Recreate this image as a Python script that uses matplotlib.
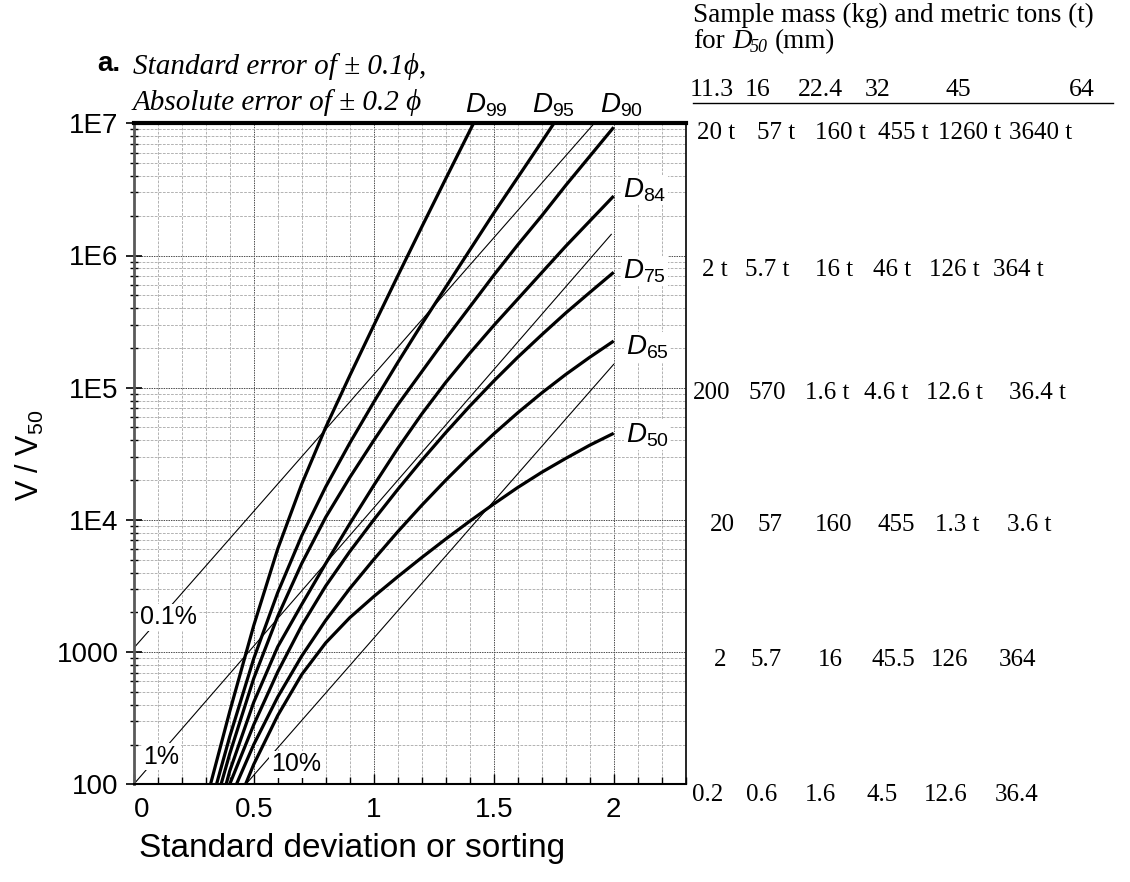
import numpy as np
import matplotlib
matplotlib.use("Agg")
import matplotlib.pyplot as plt
import matplotlib.transforms as mtransforms
from matplotlib.ticker import FixedLocator, FixedFormatter, MultipleLocator, NullFormatter, LogLocator

plt.rcParams['font.family'] = ['Liberation Sans', 'DejaVu Sans']
plt.rcParams['mathtext.fontset'] = 'custom'
plt.rcParams['mathtext.rm'] = 'Liberation Sans'
plt.rcParams['mathtext.it'] = 'Liberation Sans:italic'

# ---------------- data (x = sorting, values = log10(V/V50)) ----------------
d99_x = [0.32, 0.4, 0.5, 0.6, 0.7, 0.8, 0.9, 1.0, 1.1, 1.2, 1.3, 1.416]
d99_log = [2.0, 2.55, 3.2, 3.78, 4.27, 4.7, 5.09, 5.47, 5.845, 6.215, 6.58, 7.0]

d95_x = [0.345, 0.4, 0.5, 0.6, 0.7, 0.8, 0.9, 1.0, 1.1, 1.2, 1.3, 1.4, 1.5, 1.6, 1.7, 1.751]
d95_log = [2.0, 2.36, 2.95, 3.45, 3.88, 4.25, 4.58, 4.89, 5.19, 5.48, 5.76, 6.04, 6.32, 6.59, 6.86, 7.0]

d90_x = [0.364, 0.4, 0.5, 0.6, 0.7, 0.8, 0.9, 1.0, 1.1, 1.2, 1.3, 1.4, 1.5, 1.6, 1.7, 1.8, 1.9, 2.0]
d90_log = [2.0, 2.23, 2.8, 3.27, 3.67, 4.02, 4.32, 4.6, 4.87, 5.12, 5.37, 5.61, 5.85, 6.08, 6.3, 6.53, 6.75, 6.97]

d84_x = [0.385, 0.4, 0.5, 0.6, 0.7, 0.8, 0.9, 1.0, 1.1, 1.2, 1.3, 1.4, 1.5, 1.6, 1.7, 1.8, 1.9, 2.0]
d84_log = [2.0, 2.1, 2.62, 3.04, 3.36, 3.67, 3.97, 4.26, 4.54, 4.80, 5.04, 5.26, 5.47, 5.67, 5.87, 6.07, 6.26, 6.45]

d75_x = [0.4, 0.5, 0.6, 0.7, 0.8, 0.9, 1.0, 1.1, 1.2, 1.3, 1.4, 1.5, 1.6, 1.7, 1.8, 1.9, 2.0]
d75_log = [2.0, 2.45, 2.85, 3.2, 3.5, 3.76, 4.0, 4.23, 4.45, 4.66, 4.86, 5.05, 5.23, 5.4, 5.565, 5.72, 5.873]

d65_x = [0.428, 0.5, 0.6, 0.7, 0.8, 0.9, 1.0, 1.1, 1.2, 1.3, 1.4, 1.5, 1.6, 1.7, 1.8, 1.9, 2.0]
d65_log = [2.0, 2.3, 2.66, 2.97, 3.24, 3.48, 3.70, 3.91, 4.11, 4.30, 4.48, 4.65, 4.81, 4.96, 5.1, 5.23, 5.353]

d50_x = [0.466, 0.5, 0.6, 0.7, 0.8, 0.9, 1.0, 1.1, 1.2, 1.3, 1.4, 1.5, 1.6, 1.7, 1.8, 1.9, 2.0]
d50_log = [2.0, 2.15, 2.52, 2.83, 3.07, 3.26, 3.42, 3.57, 3.715, 3.855, 3.99, 4.12, 4.245, 4.36, 4.465, 4.565, 4.655]

curve_names = ['99', '95', '90', '84', '75', '65', '50']

# thin percent-error lines (end points)
pct_labels = ['0.1%', '1%', '10%']
pct_x = [[0.0, 1.919], [0.0, 1.99], [0.467, 2.0]]
pct_log = [[3.03, 7.0], [2.0, 6.16], [2.0, 5.177]]

# axis ticks
ytick_vals = [1e2, 1e3, 1e4, 1e5, 1e6, 1e7]
ytick_labels = ['100', '1000', '1E4', '1E5', '1E6', '1E7']
xtick_vals = [0, 0.5, 1.0, 1.5, 2.0]
xtick_labels = ['0', '0.5', '1', '1.5', '2']

# side table
d50_sizes = ['11.3', '16', '22.4', '32', '45', '64']
row_1e7 = ['20 t', '57 t', '160 t', '455 t', '1260 t', '3640 t']
row_1e6 = ['2 t', '5.7 t', '16 t', '46 t', '126 t', '364 t']
row_1e5 = ['200', '570', '1.6 t', '4.6 t', '12.6 t', '36.4 t']
row_1e4 = ['20', '57', '160', '455', '1.3 t', '3.6 t']
row_1e3 = ['2', '5.7', '16', '45.5', '126', '364']
row_1e2 = ['0.2', '0.6', '1.6', '4.5', '12.6', '36.4']

# ---------------- figure ----------------
W, H = 1130, 882
fig = plt.figure(figsize=(W / 100, H / 100), dpi=100)
ax = fig.add_axes([133.7 / W, 1 - 784.3 / H, 552 / W, 661 / H])
ax.set_yscale('log')
ax.set_xlim(0, 2.3)
ax.set_ylim(1e2, 1e7)
ax.set_axisbelow(True)

curves_x = [d99_x, d95_x, d90_x, d84_x, d75_x, d65_x, d50_x]
curves_log = [d99_log, d95_log, d90_log, d84_log, d75_log, d65_log, d50_log]
for cx, cl in zip(curves_x, curves_log):
    ax.plot(cx, 10 ** np.array(cl), color='black', lw=2.3, solid_capstyle='butt',
            solid_joinstyle='round', zorder=3)

for px, pl in zip(pct_x, pct_log):
    ax.plot(px, 10 ** np.array(pl), color='black', lw=0.8, zorder=2)

# ticks & grid
ax.xaxis.set_major_locator(FixedLocator(xtick_vals))
ax.xaxis.set_major_formatter(FixedFormatter(xtick_labels))
ax.xaxis.set_minor_locator(MultipleLocator(0.1))
ax.yaxis.set_major_locator(FixedLocator(ytick_vals))
ax.yaxis.set_major_formatter(FixedFormatter(ytick_labels))
ax.yaxis.set_minor_locator(LogLocator(base=10, subs=np.arange(2, 10), numticks=20))
ax.yaxis.set_minor_formatter(NullFormatter())
ax.grid(which='major', color='0.3', linestyle=(0, (1.5, 1.0)), lw=0.7)
ax.grid(which='minor', color='0.68', linestyle=(0, (3, 1.5)), lw=0.65)

ax.tick_params(axis='y', which='major', direction='inout', length=12, width=1.2, labelsize=20, pad=5)
ax.tick_params(axis='y', which='minor', direction='inout', length=6, width=1.0)
ax.tick_params(axis='x', which='major', direction='in', length=7, width=1.0, labelsize=20, pad=9)
ax.tick_params(axis='x', which='minor', direction='in', length=5, width=1.0)

# the "0" label sits slightly right of its tick in the original
fig.canvas.draw()
lbl0 = ax.get_xticklabels()[0]
lbl0.set_transform(lbl0.get_transform() + mtransforms.ScaledTranslation(8 / 100, 0, fig.dpi_scale_trans))

ax.spines['left'].set_color('0.35')
ax.spines['left'].set_linewidth(2.0)
ax.spines['top'].set_linewidth(3.0)
ax.spines['right'].set_linewidth(1.2)
ax.spines['bottom'].set_linewidth(1.5)

# percent labels
box = dict(facecolor='white', edgecolor='none', pad=1.0)
pct_pos = [(0.144, 10 ** 3.265), (0.116, 10 ** 2.21), (0.676, 10 ** 2.153)]
for lab, (lx, ly) in zip(pct_labels, pct_pos):
    ax.text(lx, ly, lab, fontsize=18, ha='center', va='center', bbox=box, zorder=4)

# curve labels
lab_pos = [(1.468, 10 ** 7.14), (1.748, 10 ** 7.14), (2.031, 10 ** 7.14),
           (2.13, 10 ** 6.495), (2.13, 10 ** 5.883), (2.14, 10 ** 5.304), (2.14, 10 ** 4.642)]
for i, (name, (lx, ly)) in enumerate(zip(curve_names, lab_pos)):
    t = ax.text(lx, ly, r'$\mathit{D}_{\mathit{%s}}$' % name, fontsize=20, ha='center', va='center',
                zorder=5, clip_on=False)
    if i >= 3:
        t.set_bbox(dict(facecolor='white', edgecolor='none', pad=1.0))

# axis labels
fig.text(30 / W, 1 - 455 / H, 'V / V$_{50}$', rotation=90, fontsize=22, ha='center', va='center')
fig.text(352 / W, 1 - 848 / H, 'Standard deviation or sorting', fontsize=24, ha='center', va='center')
fig.text(109 / W, 1 - 64 / H, 'a.', fontsize=20, fontweight='bold', ha='center', va='center')

serif = ['Liberation Serif', 'DejaVu Serif']
fig.text(133 / W, 1 - 67 / H, 'Standard error of \u00b1 0.1\u03d5,', family=serif, style='italic',
         fontsize=21, ha='left', va='center')
fig.text(133 / W, 1 - 102 / H, 'Absolute error of \u00b1 0.2 \u03d5', family=serif, style='italic',
         fontsize=21, ha='left', va='center')

# side table
fig.text(693 / W, 1 - 15 / H, 'Sample mass (kg) and metric tons (t)', family=serif, fontsize=19.5,
         ha='left', va='center')
fig.text(693 / W, 1 - 42 / H, 'for', family=serif, fontsize=19.5, ha='left', va='center')
fig.text(732 / W, 1 - 42 / H, 'D', family=serif, style='italic', fontsize=19.5, ha='left', va='center')
fig.text(750 / W, 1 - 48 / H, '50', family=serif, style='italic', fontsize=13, ha='left', va='center')
fig.text(775 / W, 1 - 42 / H, '(mm)', family=serif, fontsize=19.5, ha='left', va='center')

header_x = [712, 758, 820, 878, 958, 1082]
for s, hx in zip(d50_sizes, header_x):
    fig.text(hx / W, 1 - 90 / H, s, family=serif, fontsize=18.5, ha='center', va='center')
fig.add_artist(plt.Line2D([693 / W, 1113 / W], [1 - 103 / H, 1 - 103 / H], color='black', lw=1.0))

rows = [row_1e7, row_1e6, row_1e5, row_1e4, row_1e3, row_1e2]
row_y = [133, 270, 393, 525, 660, 795]
row_x = [[716, 776, 840, 903, 970, 1041],
         [715, 767, 834, 892, 954, 1018],
         [712, 767, 827, 886, 954, 1037],
         [722, 770, 834, 896, 957, 1029],
         [720, 766, 830, 893, 950, 1018],
         [708, 762, 820, 882, 946, 1017]]
for vals, ry, rx in zip(rows, row_y, row_x):
    for v, x in zip(vals, rx):
        fig.text(x / W, 1 - ry / H, v, family=serif, fontsize=18, ha='center', va='center')

fig.savefig('out.png', dpi=100)
